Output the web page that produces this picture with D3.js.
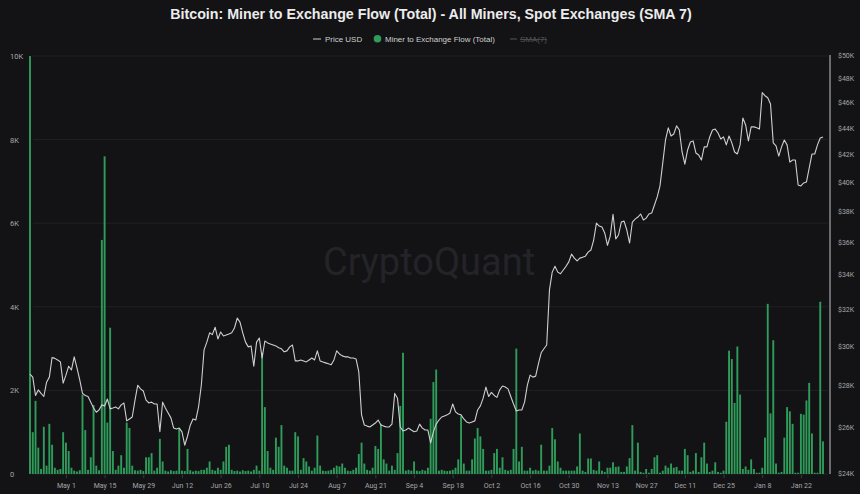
<!DOCTYPE html>
<html><head><meta charset="utf-8">
<script src="https://cdn.jsdelivr.net/npm/d3@7"></script>
<style>
html,body{margin:0;padding:0;background:#131316;}
svg{display:block;}
</style></head><body>
<svg id="chart" width="860" height="494"></svg>
<script>
const chartTitle = "Bitcoin: Miner to Exchange Flow (Total) - All Miners, Spot Exchanges (SMA 7)";
const startDate = "2023-04-18";
const flowValues = [
10000,1000,1750,630,120,1130,200,1200,700,150,
100,120,1000,750,550,150,80,60,90,1900,
1050,100,400,1650,200,90,5600,7600,1230,3500,
550,100,200,450,150,1230,1100,200,90,80,
100,70,400,400,500,80,150,840,300,80,
60,90,70,80,1100,80,70,600,90,60,
80,70,100,100,150,300,100,80,150,100,
300,650,700,100,70,80,60,90,70,80,
60,100,200,80,2900,1600,550,150,100,870,
650,1170,200,150,80,80,1000,900,100,380,
300,180,80,150,920,200,80,70,80,100,
150,200,180,250,150,80,70,100,150,480,
750,250,100,80,150,670,600,1200,350,250,
80,200,100,500,1630,2900,80,100,80,300,
80,70,100,80,150,1320,2200,2500,80,100,
80,70,80,100,150,350,1380,250,80,80,
350,850,1100,900,600,80,80,100,500,600,
150,400,100,80,100,600,3000,300,650,80,
80,150,80,100,80,700,80,80,200,1100,
830,300,150,80,80,80,80,80,180,970,
80,50,370,370,100,80,300,80,50,150,
150,280,170,180,50,50,180,380,1170,80,
750,50,30,120,30,120,400,450,30,80,
200,150,250,150,170,80,80,600,450,50,
80,500,50,400,750,250,50,80,280,50,
30,80,1250,2950,2750,1700,3050,1900,120,180,
100,350,120,30,30,150,870,4070,1450,3200,
250,30,50,870,1600,1500,1200,30,30,1440,
1420,1760,2180,970,30,30,4120,780
];
const priceValues = [
28550,28400,27500,27770,27600,27450,28150,28400,29400,29350,
29270,29170,28100,28500,28950,28760,29430,28860,28260,27600,
27500,27450,27180,26900,26700,26810,27050,27000,27330,26860,
26900,26950,26860,27050,27140,26300,26390,26480,27280,28000,
27820,27720,27280,27140,27180,27090,27090,25800,27180,26900,
26670,26440,25970,25930,25970,25800,25200,25600,26100,26390,
26340,26950,28000,29790,30200,30700,30600,31000,30370,30740,
30530,30580,30630,30700,30960,31500,31280,30700,30200,29950,
30000,28950,30200,30420,29370,30260,30160,30100,30050,30000,
29900,29850,29690,29740,29950,30050,29220,29220,29270,29220,
29170,29270,29370,29270,29740,29220,29170,29120,29070,29020,
29270,29740,29580,29480,29430,29430,29370,29370,29320,28660,
26580,26110,26060,26020,26110,26200,26340,26110,26060,26020,
26020,26150,27600,27370,26020,25840,25880,25970,25880,25800,
25840,26150,25970,25880,25880,25300,25800,26150,26340,26480,
26530,26580,26670,27090,26720,26620,26580,26390,26250,26200,
26250,26300,26810,27000,27370,27910,27450,27650,27500,27410,
27770,27960,27910,27820,27450,27090,26760,26810,26810,27180,
28000,28500,28400,28450,29070,29640,29850,30050,33100,34150,
34500,34150,34050,34280,34500,34770,35250,35000,34830,35000,
35060,35120,35370,35500,36130,37220,37030,36960,36580,35800,
36380,37800,36200,36450,37290,37350,36770,35940,37290,37480,
37620,37820,37420,37550,37820,37880,38420,38970,39730,41350,
43070,44000,43370,43520,44150,43830,42170,41280,42320,42920,
43000,42100,41950,41580,42550,42550,43300,43830,43900,43600,
43140,43300,42700,43370,42850,42170,42020,42700,44760,44220,
43000,44070,44070,44000,43900,46800,46550,46380,45880,42850,
42620,41870,42550,43070,42700,41430,41580,41580,39800,39730,
39940,40000,41000,42020,42020,42700,43220,43300
];
const xTickDates = ["2023-05-01","2023-05-15","2023-05-29","2023-06-12","2023-06-26","2023-07-10","2023-07-24","2023-08-07","2023-08-21","2023-09-04","2023-09-18","2023-10-02","2023-10-16","2023-10-30","2023-11-13","2023-11-27","2023-12-11","2023-12-25","2024-01-08","2024-01-22"];
const leftTicks = [0,2000,4000,6000,8000,10000];
const rightTicks = [24000,26000,28000,30000,32000,34000,36000,38000,40000,42000,44000,46000,48000,50000];
const legendItems = ["Price USD","Miner to Exchange Flow (Total)","SMA(7)"];

const svg = d3.select("#chart");
const W = 860, H = 494;
svg.append("rect").attr("width",W).attr("height",H).attr("fill","#131316");

const parse = d3.utcParse("%Y-%m-%d");
const t0 = parse(startDate);
const dates = flowValues.map((_, i) => d3.utcDay.offset(t0, i));

const x = d3.scaleUtc().domain([dates[0], dates[dates.length-1]]).range([30, 823]);
const yL = d3.scaleLinear().domain([0, 10000]).range([474, 56]);
const yR = d3.scaleLog().domain([24000, 50000]).range([473, 55]);

const font = "'Liberation Sans', Arial, sans-serif";
const font2 = "Roboto, 'Liberation Sans', Arial, sans-serif";

// gridlines
svg.append("g").selectAll("line").data(leftTicks).join("line")
  .attr("x1", 33).attr("x2", 828)
  .attr("y1", d => yL(d)).attr("y2", d => yL(d))
  .attr("stroke", "#202025").attr("stroke-width", 1);

// watermark
svg.append("text").attr("x", 429).attr("y", 275).attr("text-anchor","middle")
  .attr("font-family", font2).attr("font-size", 38).attr("fill", "#232329")
  .text("CryptoQuant");

// bars
const bw = 1.9;
svg.append("g").selectAll("rect").data(flowValues).join("rect")
  .attr("x", (d,i) => x(dates[i]) - bw/2)
  .attr("width", bw)
  .attr("y", d => yL(d))
  .attr("height", d => yL(0) - yL(d))
  .attr("fill", "#2f9c5a");

// price line
const line = d3.line().x((d,i) => x(dates[i])).y(d => yR(d));
svg.append("path").datum(priceValues)
  .attr("d", line).attr("fill","none")
  .attr("stroke","#cfcfd2").attr("stroke-width",1.1).attr("stroke-linejoin","round");

// right axis line
svg.append("line").attr("x1",830).attr("x2",830).attr("y1",55).attr("y2",474)
  .attr("stroke","#8a8a8e").attr("stroke-width",1.5);

// left axis labels
const lAxis = d3.axisLeft(yL).tickValues(leftTicks).tickSize(0)
  .tickFormat(d => d === 0 ? "0" : (d/1000) + "K");
const gl = svg.append("g").call(lAxis);
gl.select(".domain").remove();
gl.selectAll("text").attr("x", 10).attr("text-anchor","start")
  .attr("font-family", font2).attr("font-size", 7.5).attr("fill","#a5a5a8");

// right axis labels
const rAxis = d3.axisRight(yR).tickValues(rightTicks).tickSize(0)
  .tickFormat(d => "$" + (d/1000) + "K");
const gr = svg.append("g").attr("transform","translate(838,0)").call(rAxis);
gr.select(".domain").remove();
gr.selectAll("text").attr("x", 0).attr("text-anchor","start")
  .attr("font-family", font2).attr("font-size", 7).attr("fill","#a5a5a8");

// bottom axis
const bAxis = d3.axisBottom(x).tickValues(xTickDates.map(parse)).tickSize(3)
  .tickFormat(d3.utcFormat("%b %-d"));
const gb = svg.append("g").attr("transform","translate(0,475)").call(bAxis);
gb.select(".domain").remove();
gb.selectAll("line").attr("stroke","#3a3a3f");
gb.selectAll("text").attr("y", 8).attr("font-family", font2).attr("font-size", 7).attr("fill","#a5a5a8");

// title (fit to measured width in reference)
const title = svg.append("text").attr("x", 431).attr("y", 18.5).attr("text-anchor","middle")
  .attr("font-family", font).attr("font-weight","bold").attr("font-size", 14)
  .attr("fill","#ececec").text(chartTitle);
const tw = title.node().getComputedTextLength();
title.attr("font-size", 14 * 522 / tw);

// legend
const lg = svg.append("g").attr("font-family", font).attr("font-size", 8.5);
lg.append("line").attr("x1",313).attr("x2",321).attr("y1",39).attr("y2",39).attr("stroke","#cfcfcf").attr("stroke-width",1);
lg.append("text").attr("x",325).attr("y",42).attr("fill","#cfcfcf").text(legendItems[0]);
lg.append("circle").attr("cx",377.5).attr("cy",38.7).attr("r",3.8).attr("fill","#2f9c5a");
const t2 = lg.append("text").attr("x",385).attr("y",42).attr("fill","#cfcfcf").text(legendItems[1]);
lg.append("line").attr("x1",510).attr("x2",517).attr("y1",39).attr("y2",39).attr("stroke","#555558").attr("stroke-width",1);
lg.append("text").attr("x",520).attr("y",42).attr("fill","#555558").attr("text-decoration","line-through").text(legendItems[2]);
const w2 = t2.node().getComputedTextLength();
lg.attr("font-size", 8.5 * 110 / w2);
</script>
</body></html>
